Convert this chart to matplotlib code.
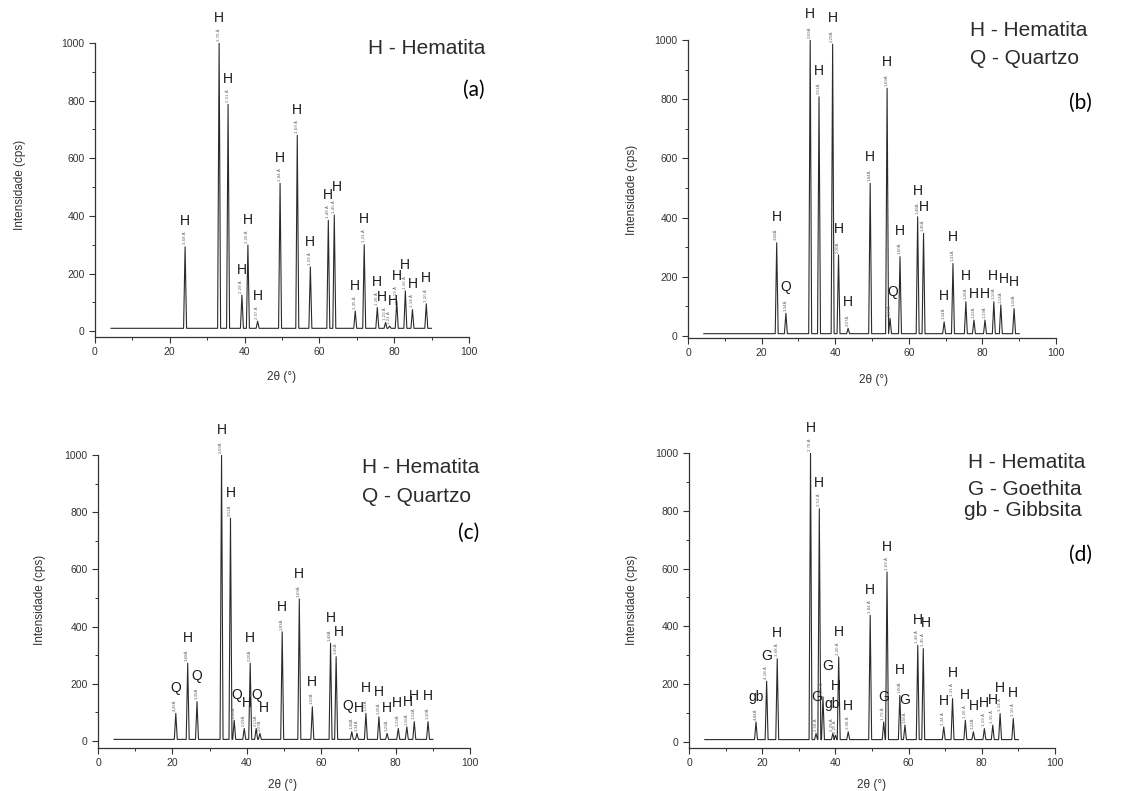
import matplotlib
matplotlib.use('Agg')
import matplotlib.pyplot as plt
from matplotlib.ticker import MultipleLocator

plt.rcParams['font.family'] = ['Liberation Sans', 'DejaVu Sans']

# ---------------- data (2theta, intensity, phase, d-spacing) ----------------
a_pos = [24.1, 33.2, 35.6, 39.3, 40.9, 43.5, 49.5, 54.1, 57.6, 62.4, 64.0,
         69.6, 72.0, 75.5, 77.7, 78.8, 80.7, 83.0, 84.9, 88.6]
a_int = [293, 1000, 787, 125, 299, 35, 513, 680, 223, 385, 403,
         70, 300, 82, 30, 18, 105, 140, 75, 95]
a_lbl = ['H'] * 20
a_d = ['3,68 Å', '2,70 Å', '2,51 Å', '2,29 Å', '2,20 Å', '2,07 Å', '1,84 Å',
       '1,69 Å', '1,59 Å', '1,48 Å', '1,45 Å', '1,35 Å', '1,31 Å', '1,26 Å',
       '1,23 Å', '1,21 Å', '1,19 Å', '1,16 Å', '1,14 Å', '1,10 Å']
a_base = 10

b_pos = [24.1, 26.6, 33.2, 35.6, 39.3, 40.9, 43.5, 49.5, 54.1, 54.9, 57.6,
         62.4, 64.0, 69.6, 72.0, 75.5, 77.7, 80.7, 83.1, 85.0, 88.6]
b_int = [315, 77, 1000, 808, 986, 274, 26, 516, 837, 60, 268,
         403, 347, 48, 245, 116, 54, 54, 116, 105, 93]
b_lbl = ['H', 'Q', 'H', 'H', 'H', 'H', 'H', 'H', 'H', 'Q', 'H',
         'H', 'H', 'H', 'H', 'H', 'H', 'H', 'H', 'H', 'H']
b_d = ['3,68Å', '3,34Å', '2,69Å', '2,51Å', '2,29Å', '2,20Å', '2,07Å', '1,84Å',
       '1,69Å', '1,67Å', '1,60Å', '1,48Å', '1,45Å', '1,34Å', '1,31Å', '1,26Å',
       '1,22Å', '1,19Å', '1,16Å', '1,14Å', '1,10Å']
b_base = 8

c_pos = [20.9, 24.1, 26.6, 33.2, 35.6, 36.6, 39.3, 40.9, 42.5, 43.5, 49.5,
         54.1, 57.6, 62.5, 64.0, 68.2, 69.6, 72.0, 75.5, 77.7, 80.7, 83.0,
         85.0, 88.7]
c_int = [97, 272, 138, 1000, 779, 73, 44, 272, 44, 27, 382,
         497, 120, 342, 295, 33, 27, 97, 85, 27, 44, 50,
         68, 68]
c_lbl = ['Q', 'H', 'Q', 'H', 'H', 'Q', 'H', 'H', 'Q', 'H', 'H',
         'H', 'H', 'H', 'H', 'Q', 'H', 'H', 'H', 'H', 'H', 'H',
         'H', 'H']
c_d = ['4,26Å', '3,68Å', '3,35Å', '2,69Å', '2,51Å', '2,45Å', '2,29Å', '2,20Å',
       '2,13Å', '2,07Å', '1,83Å', '1,69Å', '1,59Å', '1,48Å', '1,45Å', '1,38Å',
       '1,34Å', '1,31Å', '1,26Å', '1,23Å', '1,19Å', '1,16Å', '1,14Å', '1,10Å']
c_base = 6

d_pos = [18.3, 21.2, 24.1, 33.2, 34.7, 35.6, 36.6, 39.3, 40.0, 40.9, 43.5,
         49.5, 53.2, 54.1, 57.6, 59.0, 62.5, 64.0, 69.6, 72.0, 75.5, 77.7,
         80.7, 83.0, 85.0, 88.6]
d_int = [69, 210, 288, 1000, 29, 807, 156, 29, 23, 294, 35,
         438, 69, 588, 161, 58, 334, 323, 52, 150, 75, 35,
         46, 58, 98, 81]
d_lbl = ['gb', 'G', 'H', 'H', 'G', 'H', 'G', 'H', 'gb', 'H', 'H',
         'H', 'G', 'H', 'H', 'G', 'H', 'H', 'H', 'H', 'H', 'H',
         'H', 'H', 'H', 'H']
d_d = ['4,84Å', '4,18 Å', '3,68 Å', '2,70 Å', '2,58 Å', '2,51 Å', '2,45 Å',
       '2,29 Å', '2,25 Å', '2,20 Å', '2,08 Å', '1,84 Å', '1,72 Å', '1,69 Å',
       '1,60Å', '1,56Å', '1,48 Å', '1,45 Å', '1,34 Å', '1,31 Å', '1,26 Å',
       '1,22Å', '1,19 Å', '1,16 Å', '1,14 Å', '1,10 Å']
d_base = 8

scan_start, scan_end = 4.3, 90.0

legend_a = ['H - Hematita']
legend_b = ['H - Hematita', 'Q - Quartzo']
legend_c = ['H - Hematita', 'Q - Quartzo']
legend_d = ['H - Hematita', 'G - Goethita', 'gb - Gibbsita']


def trace(pos, inten, base, w=0.4):
    xs, ys = [scan_start], [base]
    for p, h in sorted(zip(pos, inten)):
        xs += [p - w, p, p + w]
        ys += [base, h, base]
    xs.append(scan_end)
    ys.append(base)
    return xs, ys


def panel(rect, pos, inten, lbl, dsp, base, ymin, nudge={}):
    ax = fig.add_axes(rect)
    xs, ys = trace(pos, inten, base)
    ax.plot(xs, ys, color='#2b2b2b', lw=0.8)
    for i, (p, h, l, d) in enumerate(zip(pos, inten, lbl, dsp)):
        dx, dy = nudge.get(i, (0, 0))
        ax.text(p, h + 8, d, rotation=90, fontsize=3.2, color='#666666',
                ha='center', va='bottom', clip_on=False)
        ax.text(p + dx, h + 88 + dy, l, fontsize=10, color='#1a1a1a',
                ha='center', va='center', clip_on=False)
    ax.set_xlim(0, 100)
    ax.set_ylim(ymin, 1000)
    for s in ['top', 'right']:
        ax.spines[s].set_visible(False)
    for s in ['left', 'bottom']:
        ax.spines[s].set_color('#333333')
        ax.spines[s].set_linewidth(0.9)
    ax.xaxis.set_major_locator(MultipleLocator(20))
    ax.xaxis.set_minor_locator(MultipleLocator(10))
    ax.yaxis.set_major_locator(MultipleLocator(200))
    ax.yaxis.set_minor_locator(MultipleLocator(100))
    ax.tick_params(which='major', direction='out', length=4, width=0.8,
                   labelsize=7.5, colors='#333333')
    ax.tick_params(which='minor', direction='out', length=2.5, width=0.7,
                   colors='#333333')
    return ax


fig = plt.figure(figsize=(11.44, 7.91), dpi=100)

ax_a = panel([0.0830, 0.574, 0.3269, 0.3716], a_pos, a_int, a_lbl, a_d, a_base, -20,
             nudge={10: (0.7, 10), 14: (-0.9, 0), 15: (0.9, 0)})
ax_b = panel([0.6014, 0.5733, 0.3217, 0.3761], b_pos, b_int, b_lbl, b_d, b_base, -5,
             nudge={9: (0.6, 0), 18: (-0.3, 0), 19: (0.7, 0)})
ax_c = panel([0.0857, 0.0544, 0.3252, 0.3704], c_pos, c_int, c_lbl, c_d, c_base, -24,
             nudge={5: (0.7, 0), 6: (0.6, 0), 8: (0.2, 30), 9: (1.0, 0),
                    14: (0.7, 0), 15: (-1.0, 0), 16: (0.4, 0),
                    20: (-0.5, 0), 21: (0.4, 0)})
ax_d = panel([0.6023, 0.0544, 0.3199, 0.3729], d_pos, d_int, d_lbl, d_d, d_base, -21,
             nudge={4: (0.1, 40), 6: (1.4, 20), 7: (0.8, 75), 8: (-1.0, 20),
                    17: (0.8, 0)})

# axis titles (pixel positions from the reference)
W, H = 1144, 791
for x, y in [(20, 185), (632, 190), (40, 600), (632, 600)]:
    fig.text(x / W, 1 - y / H, 'Intensidade (cps)', rotation=90, fontsize=8.5,
             color='#333333', ha='center', va='center')
for x, y in [(282, 377), (874, 380), (283, 785), (872, 785)]:
    fig.text(x / W, 1 - y / H, '2θ (°)', fontsize=8.5, color='#333333',
             ha='center', va='center')

# legends
leg_font = dict(fontsize=15, color='#2b2b2b')
fig.text(485 / W, 1 - 48 / H, legend_a[0], ha='right', va='center', **leg_font)
fig.text(970 / W, 1 - 30 / H, legend_b[0], ha='left', va='center', **leg_font)
fig.text(970 / W, 1 - 58 / H, legend_b[1], ha='left', va='center', **leg_font)
fig.text(362 / W, 1 - 467 / H, legend_c[0], ha='left', va='center', **leg_font)
fig.text(362 / W, 1 - 497 / H, legend_c[1], ha='left', va='center', **leg_font)
fig.text(1085 / W, 1 - 462 / H, legend_d[0], ha='right', va='center', **leg_font)
fig.text(1082 / W, 1 - 490 / H, legend_d[1], ha='right', va='center', **leg_font)
fig.text(1082 / W, 1 - 510 / H, legend_d[2], ha='right', va='center', **leg_font)

tag_font = dict(fontsize=15, color='black', family=['Lato', 'DejaVu Sans'])
fig.text(485 / W, 1 - 90 / H, '(a)', ha='right', va='center', **tag_font)
fig.text(1092 / W, 1 - 103 / H, '(b)', ha='right', va='center', **tag_font)
fig.text(479 / W, 1 - 533 / H, '(c)', ha='right', va='center', **tag_font)
fig.text(1092 / W, 1 - 555 / H, '(d)', ha='right', va='center', **tag_font)

fig.savefig('out.png', dpi=100)
